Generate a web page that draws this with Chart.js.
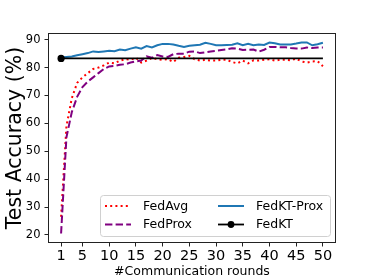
<!DOCTYPE html>
<html>
<head>
<meta charset="utf-8">
<script src="https://cdn.jsdelivr.net/npm/chart.js@4.4.1/dist/chart.umd.min.js"></script>
<style>
html,body{margin:0;padding:0;background:#fff;}
#wrap{position:relative;width:374px;height:280px;}
</style>
</head>
<body>
<div id="wrap"><canvas id="c" width="374" height="280"></canvas></div>
<script>
const rounds = [1,2,3,4,5,6,7,8,9,10,11,12,13,14,15,16,17,18,19,20,21,22,23,24,25,26,27,28,29,30,31,32,33,34,35,36,37,38,39,40,41,42,43,44,45,46,47,48,49,50];
const xTicks = [1,5,10,15,20,25,30,35,40,45,50];
const yTicks = [20,30,40,50,60,70,80,90];
const fedAvg = [26.5,59,69,74.5,76.5,78,79.5,80,80.8,81.8,81.5,82.5,83,82.8,83.5,81.8,82.5,83.5,83,82.8,83,82,83.5,83.8,84.2,83,82.5,82.8,82.5,82.5,82.8,82.8,82,81.5,82.5,81.5,82.6,82.5,82.8,83,82.5,82.8,82.8,82.6,83.2,82.2,81.8,82.2,82.3,80.5];
const fedProx = [20.5,55,64,69.5,73,75,76.5,78,79.5,80.4,80.6,81,81.2,81.8,82.2,82.5,84,83.5,84.5,84,83.8,84.8,85,85,85.7,85.8,85.2,85.5,85.8,86,86.3,86.5,86.9,86.8,86.3,86.4,86.5,85.7,86.4,87.4,87.4,87.3,87.3,87,86.8,86.8,87.2,87,87.2,87.2];
const fedKTProx = [83.6,83.8,84,84.4,84.8,85.2,85.8,85.6,85.8,86,85.9,86.5,86.2,86.8,87.3,86.8,87.7,87.2,88,88.5,88.5,88.3,87.8,87.4,87.8,88,88.2,88.9,88.5,88,88,88.1,88.2,88.7,88,88.5,88,88.3,88.1,89,88.7,88.3,88.3,88.3,88.6,89,89,88,88.4,88.9];
const fedKT = [83.3,83.3,83.3,83.3,83.3,83.3,83.3,83.3,83.3,83.3,83.3,83.3,83.3,83.3,83.3,83.3,83.3,83.3,83.3,83.3,83.3,83.3,83.3,83.3,83.3,83.3,83.3,83.3,83.3,83.3,83.3,83.3,83.3,83.3,83.3,83.3,83.3,83.3,83.3,83.3,83.3,83.3,83.3,83.3,83.3,83.3,83.3,83.3,83.3,83.3];
const seriesNames = ['FedAvg','FedProx','FedKT-Prox','FedKT'];

const FONT = "'DejaVu Sans', sans-serif";
const pts = arr => arr.map((v,i)=>({x:rounds[i], y:v}));

const frame = {
  id:'frame',
  afterDatasetsDraw(chart){
    const {ctx, chartArea:a} = chart;
    ctx.save();
    ctx.strokeStyle = '#222';
    ctx.lineWidth = 1;
    ctx.strokeRect(Math.round(a.left)+0.5, Math.round(a.top)+0.5, Math.round(a.right-a.left)-1, Math.round(a.bottom-a.top)-1);
    ctx.restore();
  }
};

const legendPlugin = {
  id:'customLegend',
  afterDraw(chart){
    const ctx = chart.ctx;
    ctx.save();
    const bx=100.5, by=195.5, bw=230, bh=41, r=3;
    ctx.fillStyle='rgba(255,255,255,0.8)';
    ctx.strokeStyle='#d0d0d0';
    ctx.lineWidth=1;
    ctx.beginPath();
    ctx.roundRect(bx,by,bw,bh,r);
    ctx.fill(); ctx.stroke();
    const ds = chart.data.datasets;
    const items = [
      {ds:ds[0], x:105, y:206},
      {ds:ds[1], x:105, y:224.5},
      {ds:ds[2], x:218, y:206},
      {ds:ds[3], x:218, y:224.5}
    ];
    ctx.font = "12.5px " + FONT;
    ctx.textBaseline='middle';
    items.forEach(it=>{
      const d = it.ds;
      ctx.strokeStyle = d.borderColor;
      ctx.lineWidth = d.borderWidth;
      ctx.setLineDash(d.borderDash || []);
      ctx.beginPath();
      ctx.moveTo(it.x, it.y); ctx.lineTo(it.x+26, it.y);
      ctx.stroke();
      ctx.setLineDash([]);
      if (d.label==='FedKT'){
        ctx.fillStyle='#000';
        ctx.beginPath(); ctx.arc(it.x+13, it.y, 3.4, 0, Math.PI*2); ctx.fill();
      }
      ctx.fillStyle='#000';
      ctx.fillText(d.label, it.x+38, it.y+0.5);
    });
    ctx.restore();
  }
};

new Chart(document.getElementById('c'), {
  type:'line',
  data:{
    datasets:[
      {label:seriesNames[0], data:pts(fedAvg), borderColor:'#ff0000', borderWidth:2, borderDash:[2,3.2], pointRadius:0, fill:false, tension:0, order:3},
      {label:seriesNames[1], data:pts(fedProx), borderColor:'#800080', borderWidth:2, borderDash:[7.4,3.2], pointRadius:0, fill:false, tension:0, order:2},
      {label:seriesNames[2], data:pts(fedKTProx), borderColor:'#1f77b4', borderWidth:2, pointRadius:0, fill:false, tension:0, order:1},
      {label:seriesNames[3], data:pts(fedKT), borderColor:'#000000', backgroundColor:'#000000', borderWidth:1.8,
        pointRadius:ctx=>ctx.dataIndex===0?3.6:0, pointBorderWidth:0, pointBackgroundColor:'#000', fill:false, tension:0, order:0}
    ]
  },
  options:{
    responsive:false, animation:false, devicePixelRatio:1,
    layout:{padding:{top:33,right:38,left:0,bottom:0}},
    plugins:{legend:{display:false}, tooltip:{enabled:false}},
    scales:{
      x:{
        type:'linear', min:-1.45, max:52.45,
        afterBuildTicks:s=>{s.ticks = xTicks.map(v=>({value:v}));},
        afterFit:s=>{s.height=37;},
        grid:{display:true, drawOnChartArea:false, drawTicks:true, tickLength:3.5, tickColor:'#222'},
        border:{display:false},
        ticks:{font:{family:FONT,size:14.5}, color:'#000', padding:1, maxRotation:0, autoSkip:false},
        title:{display:true, text:'#Communication rounds', font:{family:FONT,size:12.5}, color:'#000', padding:{top:0,bottom:0.5}}
      },
      y:{
        min:17.1, max:92.4,
        afterBuildTicks:s=>{s.ticks = yTicks.map(v=>({value:v}));},
        afterFit:s=>{s.width=48;},
        grid:{display:true, drawOnChartArea:false, drawTicks:true, tickLength:3.5, tickColor:'#222'},
        border:{display:false},
        ticks:{font:{family:FONT,size:11.5}, color:'#000', padding:4},
        title:{display:true, text:'Test Accuracy (%)', font:{family:FONT,size:20.5}, color:'#000', padding:{top:3,bottom:0}}
      }
    }
  },
  plugins:[frame, legendPlugin]
});
</script>
</body>
</html>
